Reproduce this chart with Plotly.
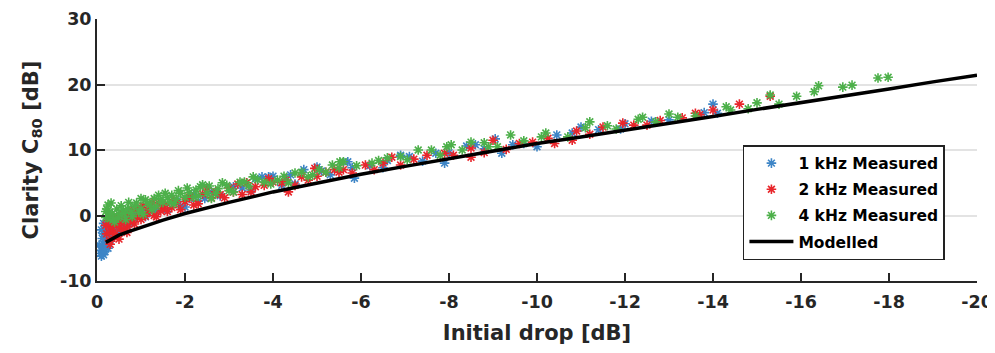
import plotly.graph_objects as go

# ---- data ----
b_x = [-0.1,-0.15,-0.12,-0.2,-0.1,-0.18,-0.25,-0.22,-0.3,-0.15,-0.35,-0.4,-0.28,-0.5,-0.45,-0.6,-0.7,-0.55,-0.8,-0.9,
       -1.0,-1.1,-1.2,-1.35,-1.5,-1.7,-1.9,-2.1,-2.3,-2.6,-2.8,-3.1,-3.5,-3.75,-3.9,-4.2,-4.7,-5.0,-5.3,-5.7,
       -5.8,-5.85,-6.5,-6.9,-7.4,-7.7,-7.9,-8.4,-8.6,-9.05,-9.2,-9.45,-10.0,-10.45,-11.0,-11.4,-11.9,-12.6,-14.0,-14.1,
       -0.05,-0.08,-0.1,-0.12,-0.15,-0.18,-0.2,-0.2,-0.22,-0.25,-0.27,-0.3,-0.3,-0.32,-0.38,-0.4,-0.42,-0.5,-0.5,-0.65,
       -0.75,-0.85,-1.0,-1.15,-1.3,-1.6,-1.8,-2.0,-2.2,-2.45,-3.3,-3.6,-4.0,-4.4,-4.5,-5.1,-6.2,-6.6,-7.1,-8.0,
       -8.8,-9.7,-10.8,-12.0,-13.0,-13.8]
b_y = [-5.3,-6.0,-4.6,-3.3,-2.2,-4.0,-5.0,-2.8,-3.6,-1.2,-2.5,-3.0,-1.6,-2.0,-1.0,-1.5,-0.3,0.0,-0.8,0.3,
       0.8,-0.2,1.2,0.6,1.5,2.0,1.4,2.6,2.2,3.6,3.0,4.4,3.9,5.9,5.9,4.6,7.0,7.4,6.2,8.2,
       7.3,5.7,7.3,9.2,8.3,9.5,8.0,10.6,10.8,11.7,9.5,10.8,10.5,12.3,13.5,13.1,13.2,14.4,17.0,15.6,
       -4.5,-5.8,-6.2,-3.5,-2.8,-5.5,-4.8,-1.8,-3.9,-2.2,-4.3,-1.0,-2.8,-3.2,-1.8,-0.5,-2.2,-0.8,-2.6,-1.9,
       -1.2,-0.5,0.0,0.4,1.0,0.9,2.2,1.3,3.2,2.6,4.2,5.6,6.0,6.2,4.8,6.8,7.6,8.4,9.0,9.6,
       10.2,11.0,12.6,14.0,14.6,15.7]

r_x = [-0.3,-0.4,-0.25,-0.35,-0.45,-0.55,-0.6,-0.7,-0.7,-0.8,-0.9,-1.0,-1.05,-1.15,-1.3,-1.4,-1.5,-1.6,-1.8,-2.0,
       -2.2,-2.5,-2.6,-2.8,-3.0,-3.1,-3.4,-3.6,-4.0,-4.2,-4.3,-4.35,-4.65,-4.95,-5.2,-5.4,-5.5,-5.6,-6.1,-6.3,
       -6.7,-7.2,-7.9,-8.5,-8.5,-9.0,-9.3,-9.9,-10.25,-10.8,-10.9,-11.5,-11.95,-12.2,-12.5,-13.6,-13.7,-14.0,-14.6,-15.3,
       -0.2,-0.22,-0.28,-0.3,-0.32,-0.38,-0.42,-0.48,-0.5,-0.52,-0.58,-0.62,-0.68,-0.75,-0.78,-0.85,-0.92,-0.98,-1.1,-1.2,
       -1.25,-1.35,-1.45,-1.55,-1.7,-1.75,-1.9,-2.1,-2.3,-2.4,-2.7,-2.9,-3.2,-3.3,-3.5,-3.8,-3.9,-4.5,-4.8,-5.0,
       -5.8,-6.5,-6.9,-7.5,-8.1,-8.8,-9.6,-10.4,-11.2,-12.8,-13.3]
r_y = [-1.9,-3.3,-0.8,-2.6,-1.2,-0.7,-2.2,-1.7,0.4,-0.4,0.9,-0.6,1.5,0.5,0.0,1.9,1.1,0.6,1.9,2.1,
       1.6,4.2,2.7,3.2,4.2,3.6,5.0,4.4,5.1,5.0,5.4,3.6,5.9,7.2,6.6,7.0,6.6,7.0,7.7,7.0,
       8.9,8.6,9.5,10.3,8.9,11.5,10.1,11.2,11.8,11.5,12.9,13.5,14.1,13.8,13.8,15.6,15.4,16.1,17.0,18.2,
       -1.5,-2.8,-3.8,-4.4,-0.3,-1.5,-2.8,-0.2,-3.6,-1.8,0.2,-1.0,-2.6,-0.9,0.9,-1.3,-0.3,1.2,-0.1,1.0,
       2.0,-0.2,0.7,1.6,1.2,2.4,0.9,2.8,1.8,3.3,3.6,2.7,4.8,3.2,3.6,4.6,5.6,4.6,5.4,6.0,
       6.5,8.0,7.7,9.2,9.2,9.6,11.0,11.0,12.4,14.5,14.9]

g_x = [-0.25,-0.2,-0.3,-0.4,-0.35,-0.5,-0.6,-0.65,-0.8,-0.85,-0.95,-1.1,-1.2,-1.25,-1.4,-1.5,-1.6,-1.75,-1.9,-2.05,
       -2.2,-2.35,-2.4,-2.5,-2.7,-2.85,-3.0,-3.25,-3.35,-3.55,-3.8,-4.1,-4.5,-4.8,-4.9,-5.2,-5.35,-5.52,-5.6,-6.25,
       -6.6,-7.05,-7.3,-7.6,-7.95,-8.05,-8.3,-8.8,-8.9,-9.1,-9.4,-10.1,-10.2,-11.1,-11.2,-11.6,-12.3,-12.4,-13.0,-13.2,
       -14.3,-14.4,-15.0,-15.3,-15.9,-16.3,-16.4,-16.95,-17.16,-17.75,-17.98,
       -0.2,-0.22,-0.28,-0.32,-0.38,-0.45,-0.48,-0.55,-0.62,-0.7,-0.72,-0.78,-0.9,-1.0,-1.0,-1.05,-1.15,-1.3,-1.35,-1.45,
       -1.55,-1.65,-1.7,-1.8,-1.85,-2.0,-2.1,-2.25,-2.3,-2.55,-2.6,-2.75,-2.95,-3.1,-3.45,-3.65,-3.95,-4.25,-4.35,-4.65,
       -5.05,-5.5,-5.9,-6.4,-6.9,-7.8,-8.5,-9.7,-10.7,-11.8,-12.7,-13.6,-14.8,-15.5]
g_y = [1.6,0.6,-0.5,-1.0,0.3,0.2,0.8,-0.6,-0.2,1.4,0.5,2.4,1.6,0.9,3.1,2.0,2.7,1.8,3.4,4.2,
       2.8,4.4,4.7,3.4,3.4,5.0,3.8,5.1,5.1,5.9,5.1,5.4,6.5,5.9,6.2,6.6,7.7,8.2,8.2,8.0,
       8.8,8.5,10.0,10.0,10.5,10.8,10.0,11.1,10.5,10.5,12.3,12.0,12.6,13.4,14.3,13.7,14.7,15.0,15.5,15.0,
       16.6,16.1,17.2,18.4,18.2,18.9,19.8,19.6,19.9,21.0,21.1,
       -0.3,1.0,0.5,1.9,-0.6,1.0,-0.4,1.5,0.3,1.0,2.0,0.5,1.9,1.0,2.6,0.2,1.9,2.6,1.4,2.4,
       3.4,2.0,3.1,2.5,3.8,2.8,3.5,3.9,3.0,4.5,2.6,4.1,4.6,3.6,4.5,5.5,4.8,6.0,5.0,6.6,
       7.0,7.3,7.6,8.4,9.0,9.2,11.2,11.4,12.0,13.2,14.3,15.2,16.3,17.0]

m_x = [-0.2,-0.5,-0.7,-1.0,-1.5,-2.0,-2.5,-3.0,-4.0,-5.0,-6.0,-7.0,-8.0,-9.0,-10.0,-11.0,-12.0,-13.0,-14.0,-15.0,
       -16.0,-17.0,-18.0,-19.0,-20.0]
m_y = [-4.1,-3.0,-2.5,-1.8,-0.7,0.3,1.2,2.0,3.6,5.0,6.3,7.5,8.7,9.9,11.0,12.0,13.0,14.1,15.1,16.2,
       17.2,18.3,19.3,20.4,21.4]

x_ticks = [0,-2,-4,-6,-8,-10,-12,-14,-16,-18,-20]
x_ticktext = ["0","-2","-4","-6","-8","-10","-12","-14","-16","-18","-20"]
y_ticks = [-10,0,10,20,30]
y_ticktext = ["-10","0","10","20","30"]

FONT = "DejaVu Sans, Liberation Sans, Arial, sans-serif"
TXT = "#262626"

fig = go.Figure()

def meas(x, y, name, color):
    return go.Scatter(x=x, y=y, mode="markers", name=name, legendgroup=name,
                      marker=dict(symbol="asterisk-open", size=8, color=color,
                                  line=dict(width=1.6, color=color)))

fig.add_trace(meas(b_x, b_y, "1 kHz Measured", "#3d85c6"))
fig.add_trace(meas(r_x, r_y, "2 kHz Measured", "#e8262b"))
fig.add_trace(meas(g_x, g_y, "4 kHz Measured", "#4db04a"))
fig.add_trace(go.Scatter(x=m_x, y=m_y, mode="lines", name="Modelled", legendgroup="Modelled",
                         line=dict(color="black", width=3.5)))

fig.update_layout(
    width=995, height=353,
    margin=dict(l=89, r=26, t=11, b=80),
    paper_bgcolor="white", plot_bgcolor="white",
    font=dict(family=FONT, color=TXT, size=18),
    showlegend=True,
    legend=dict(x=0.734, y=0.519, xanchor="left", yanchor="top",
                bgcolor="white", bordercolor="#222222", borderwidth=1.5,
                font=dict(family=FONT, size=15.5, color="black", weight="bold"),
                traceorder="grouped", tracegroupgap=3, itemwidth=44),
)
fig.update_xaxes(range=[0, -20], tickmode="array", tickvals=x_ticks, ticktext=x_ticktext,
                 automargin=False,
                 showline=True, linecolor="#262626", linewidth=2, mirror=False,
                 ticks="inside", ticklen=8, tickwidth=1.5, tickcolor="#262626",
                 showgrid=False, zeroline=False, ticklabelstandoff=4,
                 tickfont=dict(family=FONT, size=17.5, color=TXT, weight="bold"),
                 title=dict(text="Initial drop [dB]", standoff=14,
                            font=dict(family=FONT, size=21, color=TXT, weight="bold")))
fig.update_yaxes(range=[-10, 30], tickmode="array", tickvals=y_ticks, ticktext=y_ticktext,
                 automargin=False,
                 showline=True, linecolor="#262626", linewidth=2, mirror=False,
                 ticks="inside", ticklen=8, tickwidth=1.5, tickcolor="#262626",
                 showgrid=True, gridcolor="#e3e3e3", gridwidth=2, zeroline=False,
                 tickfont=dict(family=FONT, size=17.5, color=TXT, weight="bold"),
                 title=dict(text="Clarity C<sub>80</sub> [dB]", standoff=16,
                            font=dict(family=FONT, size=21, color=TXT, weight="bold")))

fig.write_html("out.html")
